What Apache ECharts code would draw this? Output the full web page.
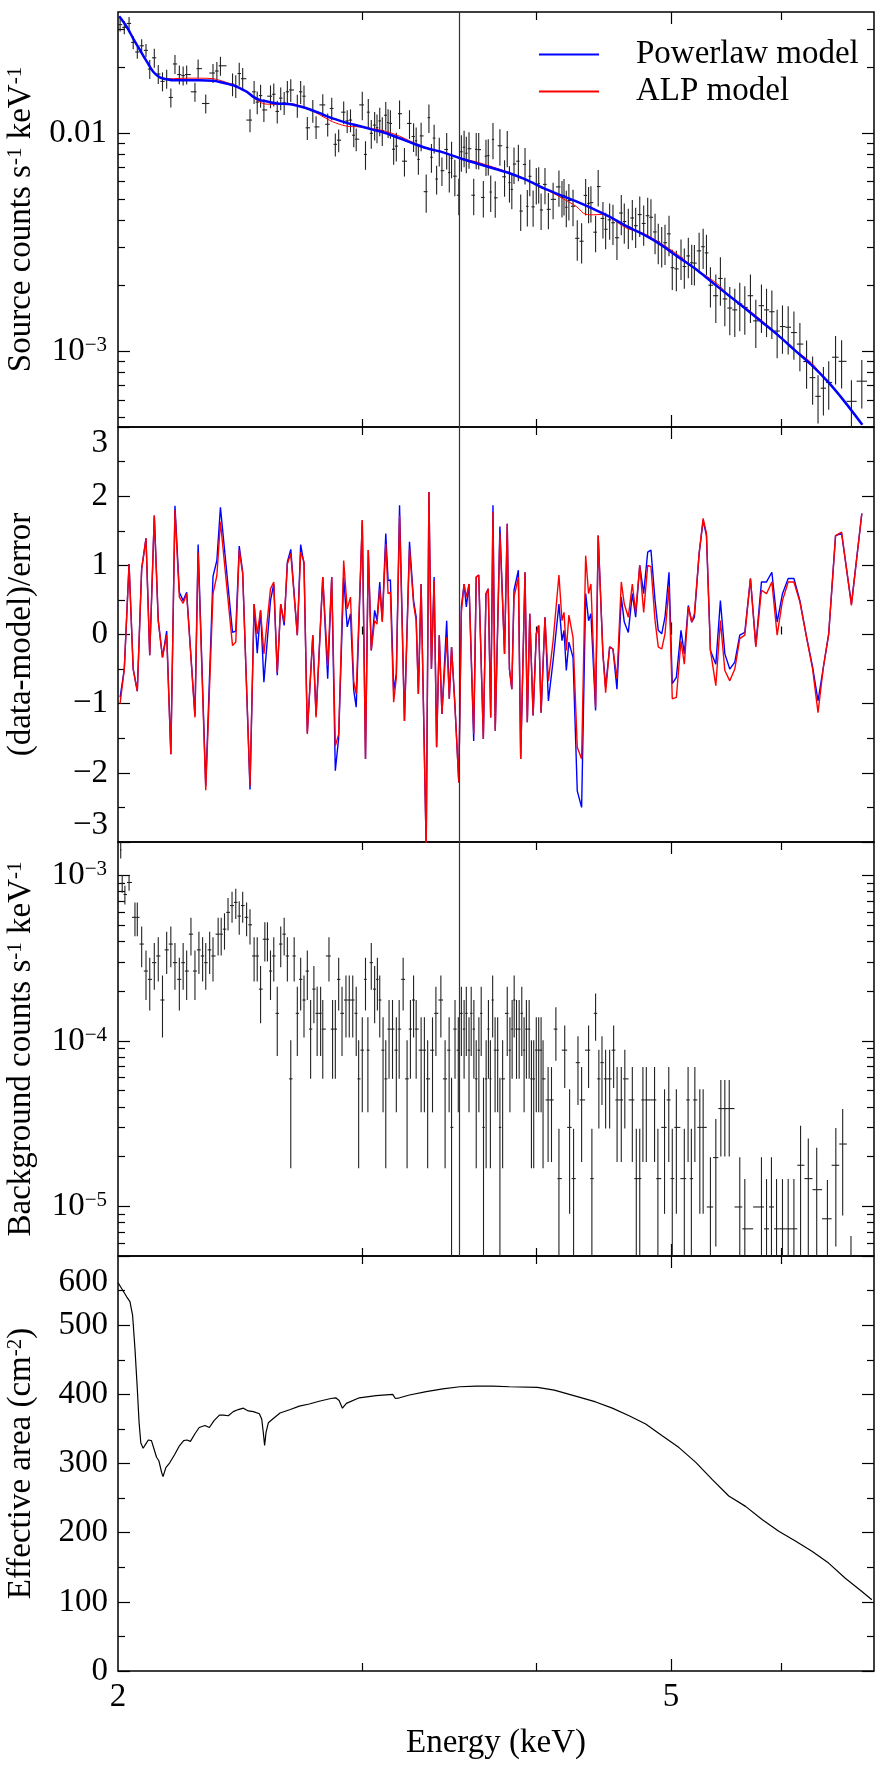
<!DOCTYPE html>
<html>
<head>
<meta charset="utf-8">
<title>Source, residual, background and effective area spectra</title>
<script src="https://cdn.jsdelivr.net/npm/echarts@6/dist/echarts.min.js"></script>
<style>
  html, body { margin: 0; padding: 0; background: #fff; }
  #main { width: 888px; height: 1773px; }
</style>
</head>
<body>
<div id="main"></div>
<script>
// ---- spectral bins (keV) shared by the source spectrum and the residuals ----
const binEnergy = [
  2.007, 2.021, 2.037, 2.051, 2.065, 2.080, 2.095, 2.108, 2.124, 2.138,
  2.153, 2.168, 2.183, 2.198, 2.214, 2.228, 2.241, 2.272, 2.284, 2.313,
  2.341, 2.356, 2.370, 2.418, 2.431, 2.445, 2.459, 2.489, 2.506, 2.519,
  2.533, 2.547, 2.575, 2.589, 2.604, 2.619, 2.634, 2.648, 2.663, 2.692,
  2.707, 2.722, 2.737, 2.762, 2.777, 2.808, 2.831, 2.850, 2.867, 2.883,
  2.907, 2.924, 2.940, 2.956, 2.968, 2.998, 3.014, 3.028, 3.043, 3.060,
  3.072, 3.086, 3.099, 3.117, 3.129, 3.141, 3.158, 3.172, 3.189, 3.215,
  3.242, 3.264, 3.278, 3.290, 3.305, 3.333, 3.348, 3.362, 3.377, 3.391,
  3.406, 3.421, 3.448, 3.463, 3.476, 3.495, 3.518, 3.533, 3.549, 3.562,
  3.578, 3.606, 3.621, 3.636, 3.664, 3.680, 3.694, 3.709, 3.723, 3.737,
  3.766, 3.795, 3.812, 3.826, 3.841, 3.855, 3.883, 3.898, 3.926, 3.941,
  3.957, 3.979, 4.000, 4.016, 4.032, 4.058, 4.081, 4.113, 4.153, 4.174,
  4.188, 4.204, 4.222, 4.251, 4.281, 4.312, 4.341, 4.362, 4.379, 4.413,
  4.432, 4.467, 4.487, 4.517, 4.542, 4.572, 4.605, 4.628, 4.659, 4.690,
  4.716, 4.748, 4.779, 4.811, 4.837, 4.870, 4.896, 4.924, 4.951, 4.984,
  5.011, 5.045, 5.084, 5.112, 5.146, 5.175, 5.198, 5.239, 5.274, 5.303,
  5.338, 5.386, 5.427, 5.467, 5.512, 5.558, 5.604, 5.651, 5.704, 5.755,
  5.809, 5.858, 5.910, 5.962, 6.015, 6.072, 6.130, 6.191, 6.260, 6.323,
  6.380, 6.437, 6.494, 6.568, 6.634, 6.743, 6.860
];

// source counts s^-1 keV^-1
const srcRate = [
  0.0315, 0.0306, 0.0319, 0.0261, 0.0236, 0.0252, 0.0240, 0.0197, 0.0222, 0.0187,
  0.0173, 0.0178, 0.0146, 0.0208, 0.0186, 0.0184, 0.0186, 0.0155, 0.0198, 0.0137,
  0.0189, 0.0193, 0.0204, 0.0168, 0.0165, 0.0188, 0.0178, 0.0115, 0.0155, 0.0139,
  0.0149, 0.0128, 0.0148, 0.0151, 0.0126, 0.0145, 0.0138, 0.0155, 0.0158, 0.0134,
  0.0155, 0.0148, 0.0106, 0.0127, 0.0107, 0.0135, 0.0110, 0.0130, 0.0089, 0.0093,
  0.0125, 0.0114, 0.0115, 0.0098, 0.0094, 0.0135, 0.0080, 0.0125, 0.0100, 0.0109,
  0.0106, 0.0114, 0.0103, 0.0121, 0.0112, 0.0111, 0.00845, 0.00874, 0.0123, 0.00745,
  0.0111, 0.00967, 0.00924, 0.00759, 0.00973, 0.0054, 0.0118, 0.00776, 0.00951, 0.00617,
  0.00829, 0.00674, 0.00843, 0.00661, 0.00769, 0.00636, 0.0052, 0.00823, 0.00863, 0.00810,
  0.00850, 0.00520, 0.00844, 0.00842, 0.00508, 0.00786, 0.00790, 0.00538, 0.00938, 0.00506,
  0.00877, 0.00632, 0.00862, 0.00594, 0.00553, 0.00723, 0.00745, 0.00440, 0.00720, 0.00462,
  0.00635, 0.00460, 0.00582, 0.00588, 0.00445, 0.00583, 0.00448, 0.00498, 0.00568, 0.00508,
  0.00519, 0.00458, 0.00492, 0.00463, 0.00330, 0.00320, 0.00519, 0.00477, 0.00481, 0.00352,
  0.00570, 0.00407, 0.00363, 0.00401, 0.00389, 0.00332, 0.00431, 0.00394, 0.00373, 0.00409,
  0.00377, 0.00424, 0.00386, 0.00419, 0.00412, 0.00353, 0.00318, 0.00307, 0.00315, 0.00346,
  0.00242, 0.00239, 0.00269, 0.00245, 0.00274, 0.00255, 0.00254, 0.00289, 0.00302, 0.00283,
  0.00201, 0.00180, 0.00216, 0.00174, 0.00158, 0.00155, 0.00165, 0.00159, 0.00180, 0.00138,
  0.00162, 0.00155, 0.00152, 0.00124, 0.00130, 0.00129, 0.00122, 0.00108, 0.000898, 0.000758,
  0.000622, 0.000678, 0.000720, 0.00094, 0.00090, 0.00059, 0.00073
];

// 1-sigma error of each source point, as a fraction of the rate
const srcErrFrac = [
  0.07, 0.07, 0.07, 0.07, 0.07, 0.07, 0.07, 0.10, 0.10, 0.10,
  0.10, 0.10, 0.10, 0.10, 0.10, 0.10, 0.10, 0.10, 0.10, 0.10,
  0.10, 0.10, 0.10, 0.12, 0.12, 0.12, 0.12, 0.12, 0.12, 0.12,
  0.12, 0.12, 0.12, 0.12, 0.12, 0.12, 0.12, 0.12, 0.12, 0.12,
  0.12, 0.12, 0.12, 0.12, 0.12, 0.12, 0.12, 0.12, 0.12, 0.12,
  0.12, 0.12, 0.12, 0.12, 0.12, 0.15, 0.15, 0.15, 0.15, 0.15,
  0.15, 0.15, 0.15, 0.15, 0.15, 0.15, 0.15, 0.15, 0.15, 0.15,
  0.15, 0.15, 0.15, 0.15, 0.15, 0.20, 0.15, 0.15, 0.15, 0.15,
  0.15, 0.15, 0.19, 0.19, 0.19, 0.19, 0.19, 0.19, 0.19, 0.19,
  0.19, 0.19, 0.19, 0.19, 0.19, 0.19, 0.19, 0.19, 0.19, 0.19,
  0.19, 0.19, 0.19, 0.19, 0.19, 0.19, 0.19, 0.19, 0.19, 0.19,
  0.19, 0.19, 0.19, 0.19, 0.19, 0.19, 0.19, 0.19, 0.19, 0.19,
  0.19, 0.19, 0.19, 0.19, 0.21, 0.21, 0.19, 0.19, 0.19, 0.19,
  0.19, 0.19, 0.19, 0.19, 0.21, 0.21, 0.21, 0.21, 0.21, 0.21,
  0.21, 0.21, 0.21, 0.21, 0.21, 0.21, 0.21, 0.21, 0.21, 0.21,
  0.21, 0.21, 0.21, 0.21, 0.21, 0.21, 0.21, 0.21, 0.21, 0.21,
  0.21, 0.25, 0.25, 0.25, 0.25, 0.25, 0.25, 0.25, 0.25, 0.25,
  0.25, 0.25, 0.25, 0.25, 0.25, 0.25, 0.25, 0.25, 0.25, 0.25,
  0.25, 0.25, 0.25, 0.25, 0.25, 0.25, 0.25
];

// (data-model)/error for the two fits
const residPL = [
  -0.91, -0.50, 1.02, -0.50, -0.82, 0.95, 1.39, -0.30, 1.72, 0.20,
  -0.33, 0.05, -1.73, 1.86, 0.61, 0.49, 0.61, -1.17, 1.30, -2.19,
  0.84, 1.07, 1.84, 0.03, 0.05, 1.28, 0.90, -2.24, 0.44, -0.27,
  0.35, -0.69, 0.49, 0.73, -0.59, 0.44, 0.13, 1.05, 1.23, -0.01,
  1.30, 1.02, -1.42, -0.01, -1.17, 0.83, -0.64, 0.83, -1.97, -1.49,
  0.83, 0.11, 0.30, -0.81, -1.05, 1.65, -1.80, 1.22, -0.23, 0.35,
  0.20, 0.76, 0.20, 1.46, 0.78, 0.79, -0.81, -0.57, 1.87, -1.25,
  1.34, 0.49, 0.25, -0.86, 0.73, -3.10, 2.06, -0.50, 0.83, -1.63,
  -0.01, -1.15, 0.20, -0.93, -0.18, -1.00, -2.14, 0.40, 0.73, 0.40,
  0.73, -1.54, 0.83, 0.86, -1.51, 0.59, 0.66, -1.20, 1.87, -1.39,
  1.56, -0.28, 1.60, -0.50, -0.79, 0.64, 0.93, -1.80, 0.90, -1.27,
  0.30, -1.17, 0.01, 0.13, -1.13, 0.25, -0.96, -0.38, 0.44, -0.09,
  0.06, -0.52, -0.11, -0.33, -2.26, -2.50, 0.59, 0.20, 0.30, -1.10,
  1.43, -0.28, -0.76, -0.18, -0.21, -0.79, 0.54, 0.18, 0.03, 0.59,
  0.25, 1.00, 0.59, 1.19, 1.22, 0.49, 0.06, 0.01, 0.25, 0.90,
  -0.71, -0.62, 0.06, -0.28, 0.42, 0.18, 0.25, 1.17, 1.65, 1.43,
  -0.23, -0.43, 0.49, -0.28, -0.50, -0.40, -0.01, 0.03, 0.81, -0.16,
  0.76, 0.76, 0.90, 0.18, 0.59, 0.81, 0.81, 0.49, -0.04, -0.47,
  -0.96, -0.47, 0.01, 1.43, 1.46, 0.44, 1.75
];
const residALP = [
  -1.00, -0.50, 1.02, -0.50, -0.82, 0.95, 1.39, -0.30, 1.72, 0.20,
  -0.33, -0.01, -1.73, 1.80, 0.54, 0.45, 0.59, -1.20, 1.19, -2.25,
  0.59, 0.85, 1.63, -0.16, -0.11, 1.22, 0.88, -2.19, 0.44, 0.01,
  0.35, -0.28, 0.66, 0.76, -0.55, 0.44, 0.18, 1.02, 1.17, -0.01,
  1.19, 1.05, -1.44, -0.01, -1.20, 0.83, -0.45, 0.83, -1.61, -1.44,
  1.07, 0.37, 0.54, -0.69, -0.86, 1.65, -1.80, 1.22, -0.23, 0.20,
  0.15, 0.66, 0.18, 1.31, 0.59, 0.61, -0.98, -0.62, 1.72, -1.25,
  1.24, 0.44, 0.20, -0.86, 0.73, -3.10, 2.06, -0.50, 0.78, -1.63,
  -0.01, -1.15, -0.04, -0.93, -0.18, -1.00, -2.14, 0.32, 0.73, 0.54,
  0.73, -1.44, 0.83, 0.86, -1.51, 0.59, 0.66, -1.20, 1.77, -1.39,
  1.46, -0.28, 1.60, -0.50, -0.79, 0.54, 0.83, -1.80, 0.90, -1.27,
  0.30, -1.17, 0.01, 0.13, -1.13, 0.25, -0.67, -0.09, 0.86, 0.20,
  0.32, -0.23, 0.28, -0.04, -1.63, -1.80, 1.14, 0.59, 0.73, -1.05,
  1.43, -0.28, -0.84, -0.18, -0.21, -0.64, 0.76, 0.44, 0.25, 0.73,
  0.32, 1.00, 0.32, 1.00, 0.98, 0.20, -0.18, -0.21, 0.01, 0.69,
  -0.93, -0.91, -0.09, -0.43, 0.40, 0.18, 0.30, 1.17, 1.68, 1.46,
  -0.23, -0.74, 0.20, -0.52, -0.67, -0.50, -0.06, -0.01, 0.81, -0.18,
  0.64, 0.59, 0.76, -0.01, 0.49, 0.76, 0.76, 0.47, -0.04, -0.50,
  -1.13, -0.47, 0.01, 1.43, 1.48, 0.42, 1.75
];

// folded model curves
const plEnergy = [
  2.004, 2.029, 2.051, 2.074, 2.098, 2.121, 2.145, 2.168, 2.192, 2.289,
  2.341, 2.367, 2.421, 2.448, 2.476, 2.503, 2.531, 2.560, 2.603, 2.661,
  2.701, 2.746, 2.791, 2.854, 2.918, 2.983, 3.050, 3.119, 3.189, 3.259,
  3.333, 3.427, 3.525, 3.621, 3.723, 3.827, 3.936, 4.048, 4.162, 4.278,
  4.400, 4.526, 4.652, 4.784, 4.919, 5.056, 5.198, 5.345, 5.494, 5.649,
  5.807, 5.967, 6.135, 6.307, 6.482, 6.665, 6.866
];
const plModel = [
  0.0344, 0.0308, 0.0272, 0.0241, 0.0213, 0.0191, 0.0180, 0.0177, 0.0175, 0.0175,
  0.0174, 0.0172, 0.0166, 0.0161, 0.0155, 0.0147, 0.0142, 0.0140, 0.0137, 0.0136,
  0.0133, 0.0129, 0.0124, 0.0117, 0.0112, 0.0108, 0.0104, 0.0100, 0.00949, 0.00900,
  0.00856, 0.00818, 0.00768, 0.00729, 0.00692, 0.00656, 0.00611, 0.00560, 0.00521, 0.00486,
  0.00449, 0.00412, 0.00373, 0.00342, 0.00308, 0.00272, 0.00241, 0.00209, 0.00182, 0.00158,
  0.00137, 0.00119, 0.001016, 0.000869, 0.000728, 0.000590, 0.000461
];
const alpEnergy = [
  2.004, 2.029, 2.051, 2.074, 2.098, 2.121, 2.145, 2.168, 2.192, 2.240,
  2.289, 2.341, 2.367, 2.421, 2.448, 2.476, 2.503, 2.531, 2.560, 2.603,
  2.661, 2.701, 2.746, 2.791, 2.854, 2.918, 2.983, 3.050, 3.119, 3.189,
  3.259, 3.333, 3.427, 3.525, 3.621, 3.723, 3.827, 3.936, 4.048, 4.162,
  4.278, 4.340, 4.400, 4.460, 4.526, 4.590, 4.652, 4.784, 4.919, 5.056,
  5.198, 5.345, 5.420, 5.494, 5.649, 5.807, 5.967, 6.135, 6.307, 6.400,
  6.482, 6.665, 6.866
];
const alpModel = [
  0.0344, 0.0308, 0.0272, 0.0241, 0.0213, 0.0191, 0.0181, 0.0178, 0.0178, 0.0179,
  0.0179, 0.0178, 0.0175, 0.0167, 0.0161, 0.0154, 0.0146, 0.0139, 0.0136, 0.0136,
  0.0137, 0.0134, 0.0129, 0.0122, 0.0113, 0.0108, 0.0107, 0.0105, 0.0102, 0.0097,
  0.0091, 0.0086, 0.0082, 0.0077, 0.0074, 0.0070, 0.0066, 0.0061, 0.0056, 0.0051,
  0.0046, 0.00425, 0.00423, 0.00425, 0.00410, 0.00385, 0.00366, 0.00346, 0.00312, 0.00278,
  0.00241, 0.00214, 0.00200, 0.00182, 0.00160, 0.00139, 0.00120, 0.00102, 0.00089, 0.00080,
  0.00073, 0.00059, 0.00046
];

// background spectrum
const bgEnergy = [
  2.009, 2.014, 2.023, 2.037, 2.057, 2.065, 2.080, 2.095, 2.108, 2.124,
  2.138, 2.153, 2.168, 2.183, 2.198, 2.214, 2.228, 2.241, 2.257, 2.272,
  2.287, 2.301, 2.313, 2.328, 2.341, 2.361, 2.373, 2.386, 2.400, 2.416,
  2.431, 2.445, 2.459, 2.475, 2.489, 2.506, 2.519, 2.533, 2.551, 2.562,
  2.575, 2.589, 2.604, 2.619, 2.634, 2.648, 2.663, 2.678, 2.692, 2.707,
  2.722, 2.737, 2.752, 2.767, 2.782, 2.798, 2.808, 2.837, 2.854, 2.867,
  2.883, 2.899, 2.918, 2.934, 2.951, 2.968, 2.980, 2.998, 3.014, 3.026,
  3.043, 3.060, 3.074, 3.086, 3.103, 3.117, 3.134, 3.152, 3.172, 3.187,
  3.208, 3.229, 3.247, 3.264, 3.278, 3.305, 3.323, 3.341, 3.368, 3.387,
  3.415, 3.439, 3.462, 3.476, 3.496, 3.515, 3.533, 3.549, 3.562, 3.578,
  3.591, 3.607, 3.621, 3.637, 3.651, 3.665, 3.681, 3.695, 3.707, 3.721,
  3.736, 3.752, 3.766, 3.783, 3.812, 3.829, 3.843, 3.856, 3.871, 3.888,
  3.905, 3.920, 3.935, 3.953, 3.968, 3.983, 4.000, 4.016, 4.032, 4.045,
  4.079, 4.102, 4.132, 4.153, 4.193, 4.227, 4.255, 4.286, 4.312, 4.362,
  4.386, 4.413, 4.437, 4.460, 4.487, 4.517, 4.547, 4.573, 4.605, 4.632,
  4.690, 4.721, 4.748, 4.773, 4.800, 4.866, 4.893, 4.947, 4.982, 5.011,
  5.045, 5.112, 5.144, 5.172, 5.202, 5.245, 5.274, 5.338, 5.386, 5.431,
  5.467, 5.507, 5.604, 5.651, 5.809, 5.858, 5.906, 5.956, 6.015, 6.072,
  6.130, 6.198, 6.278, 6.366, 6.480, 6.571, 6.646, 6.738
];
const bgRate = [
  1.43e-3, 9.0e-4, 7.7e-4, 9.1e-4, 5.6e-4, 5.6e-4, 3.86e-4, 2.65e-4, 2.36e-4, 2.98e-4,
  3.27e-4, 1.77e-4, 3.56e-4, 3.86e-4, 2.98e-4, 2.36e-4, 2.98e-4, 2.65e-4, 4.43e-4, 2.65e-4,
  3.56e-4, 3.27e-4, 2.98e-4, 3.56e-4, 3.27e-4, 4.43e-4, 4.43e-4, 4.75e-4, 6.0e-4, 6.6e-4,
  6.9e-4, 5.7e-4, 6.6e-4, 5.6e-4, 5.05e-4, 3.27e-4, 3.27e-4, 2.06e-4, 4.13e-4, 4.13e-4,
  2.65e-4, 3.27e-4, 1.47e-4, 3.86e-4, 4.43e-4, 3.27e-4, 5.9e-5, 3.27e-4, 1.47e-4, 2.36e-4,
  1.77e-4, 2.65e-4, 1.18e-4, 2.06e-4, 1.47e-4, 1.47e-4, 1.18e-4, 3.27e-4, 1.18e-4, 1.18e-4,
  2.36e-4, 1.47e-4, 1.77e-4, 1.77e-4, 1.77e-4, 1.47e-4, 5.9e-5, 8.8e-5, 2.36e-4, 8.8e-5,
  2.98e-4, 2.06e-4, 2.36e-4, 1.77e-4, 8.8e-5, 5.9e-5, 1.18e-4, 1.18e-4, 8.8e-5, 1.18e-4,
  2.36e-4, 5.9e-5, 1.18e-4, 1.77e-4, 1.18e-4, 8.8e-5, 8.8e-5, 5.9e-5, 8.8e-5, 1.47e-4,
  1.77e-4, 5.9e-5, 8.8e-5, 3.0e-5, 1.18e-4, 8.8e-5, 1.47e-4, 1.18e-4, 1.47e-4, 8.8e-5,
  1.47e-4, 1.18e-4, 5.9e-5, 8.8e-5, 1.47e-4, 3.0e-5, 5.9e-5, 1.18e-4, 5.9e-5, 1.77e-4,
  8.8e-5, 8.8e-5, 3.0e-5, 5.9e-5, 1.47e-4, 8.8e-5, 1.18e-4, 1.77e-4, 1.18e-4, 1.18e-4,
  1.47e-4, 8.8e-5, 1.18e-4, 1.18e-4, 5.9e-5, 5.9e-5, 8.8e-5, 8.8e-5, 8.8e-5, 5.9e-5,
  4.4e-5, 4.4e-5, 1.18e-4, 1.47e-5, 8.8e-5, 3.0e-5, 1.47e-5, 7.4e-5, 4.4e-5, 8.8e-5,
  1.47e-5, 1.47e-4, 5.9e-5, 7.4e-5, 5.9e-5, 5.9e-5, 8.8e-5, 4.4e-5, 4.4e-5, 5.9e-5,
  4.4e-5, 1.47e-5, 1.47e-5, 4.4e-5, 4.4e-5, 4.4e-5, 1.47e-5, 3.0e-5, 4.4e-5, 1.47e-5,
  3.0e-5, 1.47e-5, 4.4e-5, 1.47e-5, 4.4e-5, 3.0e-5, 3.0e-5, 9.9e-6, 1.97e-5, 3.9e-5,
  3.9e-5, 3.9e-5, 9.9e-6, 7.3e-6, 9.9e-6, 7.3e-6, 9.9e-6, 7.3e-6, 7.3e-6, 7.3e-6,
  7.3e-6, 1.77e-5, 1.47e-5, 1.26e-5, 8.4e-6, 1.77e-5, 2.38e-5, 3.3e-6
];
const bgErr = [
  1.6e-4, 1.1e-4, 1.0e-4, 1.0e-4, 1.29e-4, 1.29e-4, 1.07e-4, 8.8e-5, 8.3e-5, 9.4e-5,
  9.8e-5, 7.2e-5, 1.02e-4, 1.07e-4, 9.4e-5, 8.3e-5, 9.4e-5, 8.8e-5, 1.14e-4, 8.8e-5,
  1.02e-4, 9.8e-5, 9.4e-5, 1.02e-4, 9.8e-5, 1.14e-4, 1.14e-4, 1.18e-4, 1.33e-4, 1.40e-4,
  1.43e-4, 1.30e-4, 1.40e-4, 1.29e-4, 1.22e-4, 9.8e-5, 9.8e-5, 7.8e-5, 1.10e-4, 1.10e-4,
  8.8e-5, 9.8e-5, 6.6e-5, 1.07e-4, 1.14e-4, 9.8e-5, 4.2e-5, 9.8e-5, 6.6e-5, 8.3e-5,
  7.2e-5, 8.8e-5, 5.9e-5, 7.8e-5, 6.6e-5, 6.6e-5, 5.9e-5, 9.8e-5, 5.9e-5, 5.9e-5,
  8.3e-5, 6.6e-5, 7.2e-5, 7.2e-5, 7.2e-5, 6.6e-5, 4.2e-5, 5.1e-5, 8.3e-5, 5.1e-5,
  9.4e-5, 7.8e-5, 8.3e-5, 7.2e-5, 5.1e-5, 4.2e-5, 5.9e-5, 5.9e-5, 5.1e-5, 5.9e-5,
  8.3e-5, 4.2e-5, 5.9e-5, 7.2e-5, 5.9e-5, 5.1e-5, 5.1e-5, 4.2e-5, 5.1e-5, 6.6e-5,
  7.2e-5, 4.2e-5, 5.1e-5, 3.0e-5, 5.9e-5, 5.1e-5, 6.6e-5, 5.9e-5, 6.6e-5, 5.1e-5,
  6.6e-5, 5.9e-5, 4.2e-5, 5.1e-5, 6.6e-5, 3.0e-5, 4.2e-5, 5.9e-5, 4.2e-5, 7.2e-5,
  5.1e-5, 5.1e-5, 3.0e-5, 4.2e-5, 6.6e-5, 5.1e-5, 5.9e-5, 7.2e-5, 5.9e-5, 5.9e-5,
  6.6e-5, 5.1e-5, 5.9e-5, 5.9e-5, 4.2e-5, 4.2e-5, 5.1e-5, 5.1e-5, 5.1e-5, 4.2e-5,
  2.55e-5, 2.55e-5, 4.2e-5, 1.47e-5, 3.6e-5, 2.1e-5, 1.47e-5, 3.3e-5, 2.55e-5, 3.6e-5,
  1.47e-5, 4.65e-5, 2.95e-5, 3.3e-5, 2.95e-5, 2.95e-5, 3.6e-5, 2.55e-5, 2.55e-5, 2.95e-5,
  2.55e-5, 1.47e-5, 1.47e-5, 2.55e-5, 2.55e-5, 2.55e-5, 1.47e-5, 2.1e-5, 2.55e-5, 1.47e-5,
  2.1e-5, 1.47e-5, 2.55e-5, 1.47e-5, 2.55e-5, 2.1e-5, 2.1e-5, 9.9e-6, 1.4e-5, 1.9e-5,
  1.9e-5, 1.9e-5, 9.9e-6, 7.3e-6, 9.9e-6, 7.3e-6, 9.9e-6, 7.3e-6, 7.3e-6, 7.3e-6,
  7.3e-6, 1.3e-5, 1.1e-5, 1.0e-5, 6.0e-6, 1.2e-5, 1.5e-5, 3.3e-6
];

// effective area (cm^2)
const arfEnergy = [
  2.001, 2.012, 2.029, 2.040, 2.049, 2.057, 2.065, 2.071, 2.077, 2.085,
  2.094, 2.103, 2.114, 2.123, 2.132, 2.140, 2.150, 2.155, 2.165, 2.179,
  2.197, 2.215, 2.230, 2.242, 2.255, 2.272, 2.288, 2.310, 2.327, 2.345,
  2.366, 2.382, 2.401, 2.421, 2.441, 2.462, 2.482, 2.503, 2.528, 2.538,
  2.545, 2.550, 2.556, 2.566, 2.587, 2.616, 2.661, 2.701, 2.746, 2.791,
  2.846, 2.869, 2.885, 2.901, 2.920, 2.983, 3.067, 3.153, 3.167, 3.189,
  3.242, 3.333, 3.426, 3.523, 3.621, 3.722, 3.826, 4.008, 4.121, 4.294,
  4.414, 4.537, 4.665, 4.795, 4.928, 5.067, 5.208, 5.353, 5.503, 5.658,
  5.815, 5.978, 6.145, 6.316, 6.493, 6.675, 6.861, 6.975
];
const arfArea = [
  561, 553, 541, 534, 514, 466, 408, 360, 330, 322,
  328, 334, 333, 321, 309, 304, 287, 281, 294, 301,
  313, 326, 333, 334, 332, 343, 352, 355, 352, 362,
  370, 370, 369, 375, 378, 380, 376, 375, 372, 364,
  343, 326, 345, 359, 365, 373, 378, 383, 386, 390,
  394, 395, 391, 380, 387, 395, 398, 400, 394, 395,
  399, 404, 408, 411, 412, 412, 411, 410, 406, 396,
  389, 380, 369, 357, 340, 323, 302, 277, 253, 238,
  219, 202, 188, 173, 156, 134, 115, 103
];

// energy of the marked line (keV)
const lineEnergy = 3.52;

// axis ticks and labels
const xRange = [2, 7];
const xMajorTicks = [5];
const xMinorTicks = [3, 4, 6];
const xTickLabels = [2, 5];
const srcRange = [4.5e-4, 0.036];
const srcMajorTicks = [1e-3, 1e-2];
const srcMinorTicks = [5e-4, 6e-4, 7e-4, 8e-4, 9e-4, 2e-3, 3e-3, 4e-3, 5e-3, 6e-3, 7e-3, 8e-3, 9e-3, 0.02, 0.03];
const residRange = [-3, 3];
const bgRange = [5e-6, 1.6e-3];
const bgMajorTicks = [1e-5, 1e-4, 1e-3];
const bgMinorTicks = [6e-6, 7e-6, 8e-6, 9e-6, 2e-5, 3e-5, 4e-5, 5e-5, 6e-5, 7e-5, 8e-5, 9e-5,
  2e-4, 3e-4, 4e-4, 5e-4, 6e-4, 7e-4, 8e-4, 9e-4];
const areaRange = [0, 600];

// ---------------------------------------------------------------------------
const FONT = 'Liberation Serif';
const INK = '#000';
const tickLine = { color: INK, width: 1.2 };
const supRich = {
  sup: { fontSize: 21, verticalAlign: 'top', fontFamily: FONT, color: INK },
  low: { fontSize: 33, padding: [10, 0, 0, 0], fontFamily: FONT, color: INK }
};

// bin edges from the neighbouring bin centres
function binEdges(E, i, cap) {
  const n = E.length;
  const lo = i > 0 ? Math.sqrt(E[i - 1] * E[i]) : E[i] * E[i] / Math.sqrt(E[i] * E[i + 1]);
  const hi = i < n - 1 ? Math.sqrt(E[i] * E[i + 1]) : E[i] * E[i] / Math.sqrt(E[i - 1] * E[i]);
  return [Math.max(lo, E[i] * (1 - cap)), Math.min(hi, E[i] * (1 + cap))];
}

const srcBars = binEnergy.map((e, i) => {
  const ed = binEdges(binEnergy, i, 0.012);
  const err = srcRate[i] * srcErrFrac[i];
  return [e, srcRate[i], ed[0], ed[1], srcRate[i] - err, srcRate[i] + err];
});
const bgBars = bgEnergy.map((e, i) => {
  const ed = binEdges(bgEnergy, i, 0.02);
  return [e, bgRate[i], ed[0], ed[1], bgRate[i] - bgErr[i], bgRate[i] + bgErr[i]];
});

// crosses: horizontal bar = bin width, vertical bar = +-1 sigma
function renderErrorBar(params, api) {
  const cs = params.coordSys;
  const top = cs.y, bottom = cs.y + cs.height;
  const x = api.value(0), y = api.value(1);
  const c = api.coord([x, y]);
  const left = api.coord([api.value(2), y])[0];
  const right = api.coord([api.value(3), y])[0];
  const hiVal = api.value(5), loVal = api.value(4);
  const yHi = api.coord([x, hiVal])[1];
  const yLo = loVal > 0 ? api.coord([x, loVal])[1] : bottom;
  const clamp = v => Math.max(top, Math.min(bottom, isFinite(v) ? v : bottom));
  const style = { stroke: '#222', lineWidth: 1.1 };
  const children = [];
  const y1 = clamp(yHi), y2 = clamp(yLo);
  if (y2 > y1) children.push({ type: 'line', shape: { x1: c[0], y1: y1, x2: c[0], y2: y2 }, style: style });
  if (c[1] >= top && c[1] <= bottom) {
    children.push({ type: 'line', shape: { x1: left, y1: c[1], x2: right, y2: c[1] }, style: style });
  }
  return { type: 'group', children: children };
}

const grids = [
  { left: 118, right: 14, top: 12, height: 415 },
  { left: 118, right: 14, top: 427, height: 415 },
  { left: 118, right: 14, top: 842, height: 414 },
  { left: 118, right: 14, top: 1256, height: 415 }
].map(g => Object.assign(g, { show: true, borderColor: INK, borderWidth: 1.5, backgroundColor: 'transparent', outerBoundsMode: 'none' }));

const labelText = { fontFamily: FONT, fontSize: 33, color: INK };

// x axes: bottom and top edges of each panel, major and minor ticks
const xAxes = [];
grids.forEach((g, gi) => {
  ['bottom', 'top'].forEach(pos => {
    [true, false].forEach(major => {
      const labelled = major && pos === 'bottom' && gi === grids.length - 1;
      xAxes.push({
        type: 'log', logBase: 10, gridIndex: gi, position: pos,
        min: xRange[0], max: xRange[1],
        axisLine: { show: false }, splitLine: { show: false }, minorTick: { show: false },
        axisTick: { show: true, inside: true, length: major ? 12 : 8, customValues: major ? xMajorTicks : xMinorTicks, lineStyle: tickLine },
        axisLabel: Object.assign({ show: labelled, customValues: xTickLabels, margin: 10,
          formatter: v => String(Math.round(v)) }, labelText),
        name: labelled ? 'Energy (keV)' : '', nameLocation: 'middle', nameGap: 56,
        nameMoveOverlap: false,
        nameTextStyle: labelText
      });
    });
  });
});

// y axes
const yAxes = [];
const mainY = [];
function powLabel(v) {
  const p = Math.round(Math.log10(v));
  if (p === -2) return '0.01';
  return '10{sup|\u2212' + (-p) + '}';
}
function addLogY(gi, range, majors, minors, name) {
  ['left', 'right'].forEach(pos => {
    [true, false].forEach(major => {
      const labelled = major && pos === 'left';
      if (labelled) mainY[gi] = yAxes.length;
      yAxes.push({
        type: 'log', logBase: 10, gridIndex: gi, position: pos,
        min: range[0], max: range[1],
        axisLine: { show: false }, splitLine: { show: false }, minorTick: { show: false },
        axisTick: { show: true, inside: true, length: major ? 12 : 7, customValues: major ? majors : minors, lineStyle: tickLine },
        axisLabel: Object.assign({ show: labelled, customValues: majors, margin: 11, formatter: powLabel, rich: supRich }, labelText),
        name: labelled ? name : '', nameLocation: 'middle', nameGap: 80, nameMoveOverlap: false,
        nameTextStyle: Object.assign({ rich: supRich }, labelText)
      });
    });
  });
}
function addLinearY(gi, range, interval, name, labelOpts, lowerMax) {
  ['left', 'right'].forEach(pos => {
    const labelled = pos === 'left';
    if (labelled) mainY[gi] = yAxes.length;
    yAxes.push({
      type: 'value', gridIndex: gi, position: pos, min: range[0], max: range[1], interval: interval,
      axisLine: { show: false }, splitLine: { show: false },
      axisTick: { show: true, inside: true, length: 12, lineStyle: tickLine },
      minorTick: { show: true, splitNumber: 2, length: 7, lineStyle: tickLine },
      axisLabel: Object.assign({ show: labelled, margin: 10, rich: supRich,
        formatter: v => {
          const s = v < 0 ? '\u2212' + (-v) : String(v);
          return (lowerMax && v === range[1]) ? '{low|' + s + '}' : s;
        } }, labelOpts, labelText),
      name: labelled ? name : '', nameLocation: 'middle', nameGap: 80, nameMoveOverlap: false,
      nameTextStyle: Object.assign({ rich: supRich }, labelText)
    });
  });
}
addLogY(0, srcRange, srcMajorTicks, srcMinorTicks, 'Source counts s{sup|-1} keV{sup|-1}');
addLinearY(1, residRange, 1, '(data-model)/error', { verticalAlignMaxLabel: 'top', verticalAlignMinLabel: 'bottom' }, false);
addLogY(2, bgRange, bgMajorTicks, bgMinorTicks, 'Background counts s{sup|-1} keV{sup|-1}');
addLinearY(3, areaRange, 100, 'Effective area (cm{sup|-2})', { verticalAlignMaxLabel: 'top' }, true);

const lineMark = {
  silent: true, symbol: ['none', 'none'], label: { show: false },
  lineStyle: { color: '#333', width: 1.2, type: 'solid' },
  emphasis: { disabled: true },
  data: [{ xAxis: lineEnergy }]
};
const pairs = (xs, ys) => xs.map((x, i) => [x, ys[i]]);

const series = [
  { name: 'Source data', type: 'custom', xAxisIndex: 0, yAxisIndex: mainY[0],
    renderItem: renderErrorBar, encode: { x: 0, y: 1 }, data: srcBars, silent: true, z: 2 },
  { name: 'ALP model', type: 'line', xAxisIndex: 0, yAxisIndex: mainY[0], data: pairs(alpEnergy, alpModel),
    symbol: 'none', smooth: 0.3, lineStyle: { color: '#ff0000', width: 1 }, itemStyle: { color: '#ff0000' }, z: 3 },
  { name: 'Powerlaw model', type: 'line', xAxisIndex: 0, yAxisIndex: mainY[0], data: pairs(plEnergy, plModel),
    symbol: 'none', smooth: 0.3, lineStyle: { color: '#0000ff', width: 2.5 }, itemStyle: { color: '#0000ff' }, z: 4,
    markLine: lineMark },
  { name: 'Powerlaw residuals', type: 'line', xAxisIndex: 4, yAxisIndex: mainY[1], data: pairs(binEnergy, residPL),
    symbol: 'none', lineStyle: { color: '#0000ff', width: 1.4 }, z: 3, markLine: lineMark },
  { name: 'ALP residuals', type: 'line', xAxisIndex: 4, yAxisIndex: mainY[1], data: pairs(binEnergy, residALP),
    symbol: 'none', lineStyle: { color: '#ff0000', width: 1.4 }, z: 4 },
  { name: 'Background', type: 'custom', xAxisIndex: 8, yAxisIndex: mainY[2],
    renderItem: renderErrorBar, encode: { x: 0, y: 1 }, data: bgBars, silent: true, markLine: lineMark },
  { name: 'Effective area', type: 'line', xAxisIndex: 12, yAxisIndex: mainY[3], data: pairs(arfEnergy, arfArea),
    symbol: 'none', lineStyle: { color: INK, width: 1.2 } }
];

const chart = echarts.init(document.getElementById('main'), null, { renderer: 'canvas' });
chart.setOption({
  animation: false,
  backgroundColor: '#fff',
  textStyle: { fontFamily: FONT },
  legend: {
    data: ['Powerlaw model', 'ALP model'],
    orient: 'vertical', left: 533, top: 33,
    itemWidth: 60, itemHeight: 14, itemGap: 4,
    selectedMode: false,
    itemStyle: { opacity: 0 },
    textStyle: { fontFamily: FONT, fontSize: 33, color: INK, padding: [0, 0, 0, 32] }
  },
  grid: grids,
  xAxis: xAxes,
  yAxis: yAxes,
  series: series
});
</script>
</body>
</html>
